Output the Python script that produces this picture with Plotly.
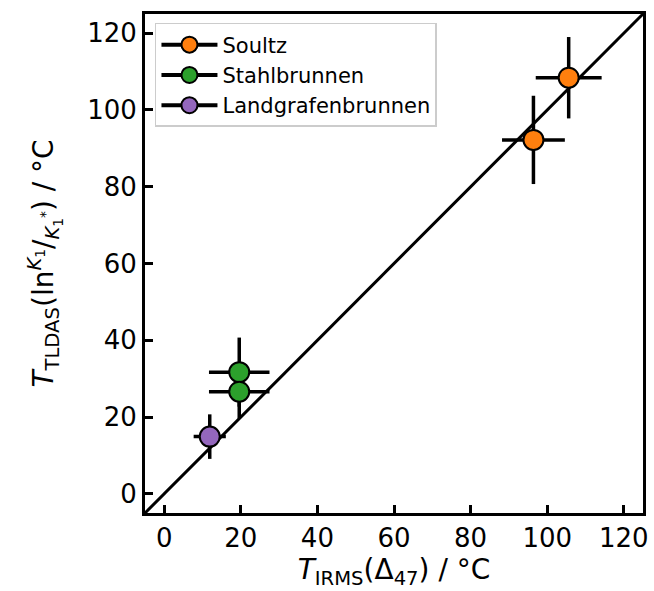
import plotly.graph_objects as go

names = ["Soultz", "Stahlbrunnen", "Landgrafenbrunnen"]
colors = ["#ff7f0e", "#2ca02c", "#9467bd"]
x_vals = [[96.4, 105.6], [19.6, 19.6], [11.9]]
y_vals = [[92.2, 108.4], [31.7, 26.6], [14.9]]
x_err = [[8.2, 8.6], [7.9, 7.9], [4.2]]
y_err = [[11.5, 10.6], [9.0, 7.0], [5.8]]
line_xy = [-5, 125]
ticks = [0, 20, 40, 60, 80, 100, 120]

fig = go.Figure()
fig.add_trace(go.Scatter(x=line_xy, y=line_xy, mode="lines",
                         line=dict(color="black", width=3), showlegend=False, hoverinfo="skip"))
for n, c, xs, ys, ex, ey in zip(names, colors, x_vals, y_vals, x_err, y_err):
    fig.add_trace(go.Scatter(
        x=xs, y=ys, mode="markers", name=n, showlegend=False,
        marker=dict(size=20, color=c, line=dict(color="black", width=2)),
        error_x=dict(type="data", array=ex, color="black", thickness=3.5, width=0),
        error_y=dict(type="data", array=ey, color="black", thickness=3.5, width=0),
    ))
for n, c in zip(names, colors):
    fig.add_trace(go.Scatter(
        x=[None], y=[None], mode="lines+markers", name=n,
        line=dict(color="black", width=4),
        marker=dict(size=20, color=c, line=dict(color="black", width=2)),
    ))

axis_common = dict(range=[-5, 125], showgrid=False, zeroline=False, showline=True,
                   linecolor="black", linewidth=3, mirror=True,
                   ticks="inside", ticklen=8, tickwidth=2.5, tickcolor="black",
                   tickvals=ticks,
                   tickfont=dict(size=26, color="black", family="DejaVu Sans"))

fig.update_layout(
    width=654, height=591,
    margin=dict(l=145, r=5, t=14, b=78),
    paper_bgcolor="white", plot_bgcolor="white",
    font=dict(family="DejaVu Sans", color="black"),
    xaxis=dict(**axis_common,
               title=dict(text="<i>T</i><sub>IRMS</sub>(Δ<sub>47</sub>) / °C",
                          font=dict(size=28), standoff=4)),
    yaxis=dict(**axis_common,
               title=dict(text="<i>T</i><sub>TLDAS</sub>(ln<sup><i>K</i><sub>1</sub></sup>/<sub><i>K</i><sub>1</sub><sup>*</sup></sub>) / °C",
                          font=dict(size=28), standoff=26)),
    legend=dict(x=0.02, y=0.982, xanchor="left", yanchor="top",
                bgcolor="rgba(255,255,255,0.8)", bordercolor="#cccccc", borderwidth=1.5,
                font=dict(size=21, color="black"), itemwidth=56, tracegroupgap=0),
    showlegend=True,
)

fig.write_html("out.html", config={"displayModeBar": False},
               post_script="document.body.style.margin='0';document.body.style.overflow='hidden';")
